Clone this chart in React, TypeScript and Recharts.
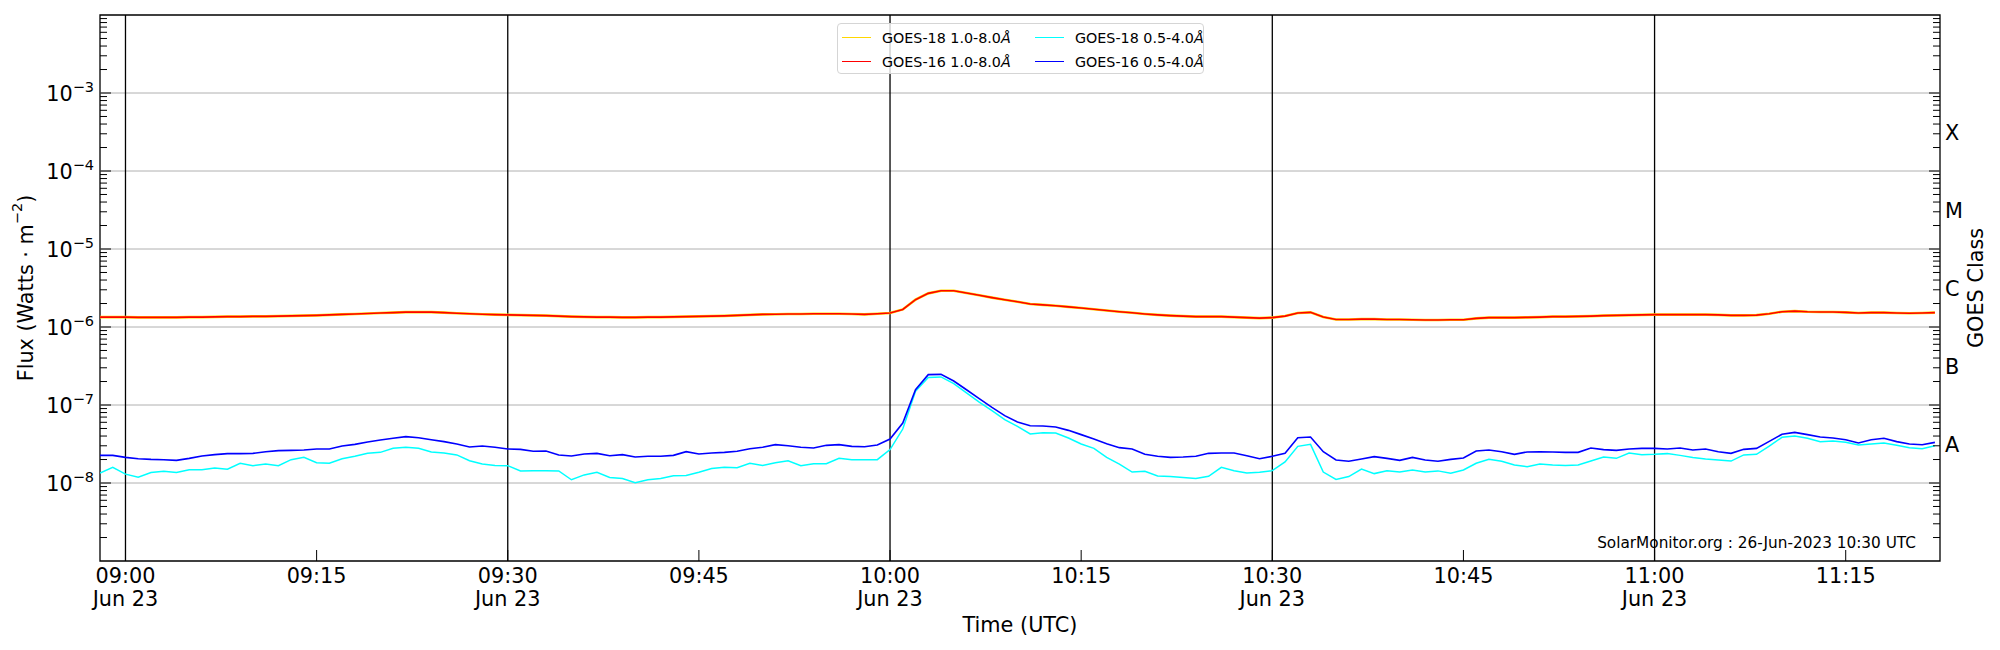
import React from 'react'
import { LineChart, Line, XAxis, YAxis, ReferenceLine, ReferenceArea } from 'recharts'

const FONT = '"DejaVu Sans", Verdana, sans-serif'

const WIDTH = 2000
const HEIGHT = 650
const PLOT_LEFT = 100
const PLOT_RIGHT = 1940
const PLOT_BOTTOM = 561

// one sample per minute, minutes counted from 09:00 UT, first sample at 08:58
const firstMinute = -2
const lastAxisMinute = 142.4

// W/m^2
const goes16Long = [
  1.34e-6, 1.34e-6, 1.34e-6, 1.33e-6, 1.33e-6, 1.33e-6, 1.33e-6, 1.34e-6, 1.34e-6, 1.35e-6, 1.36e-6, 1.36e-6,
  1.37e-6, 1.37e-6, 1.38e-6, 1.39e-6, 1.4e-6, 1.41e-6, 1.43e-6, 1.45e-6, 1.47e-6, 1.49e-6,
  1.51e-6, 1.53e-6, 1.55e-6, 1.56e-6, 1.55e-6, 1.53e-6, 1.5e-6, 1.48e-6, 1.46e-6, 1.44e-6,
  1.43e-6, 1.42e-6, 1.41e-6, 1.4e-6, 1.38e-6, 1.36e-6, 1.35e-6, 1.34e-6, 1.34e-6, 1.33e-6,
  1.33e-6, 1.34e-6, 1.34e-6, 1.35e-6, 1.36e-6, 1.37e-6, 1.38e-6, 1.39e-6, 1.41e-6, 1.43e-6,
  1.45e-6, 1.46e-6, 1.47e-6, 1.47e-6, 1.48e-6, 1.48e-6, 1.48e-6, 1.47e-6, 1.45e-6, 1.48e-6,
  1.51e-6, 1.68e-6, 2.24e-6, 2.7e-6, 2.92e-6, 2.92e-6, 2.73e-6, 2.55e-6, 2.38e-6, 2.24e-6,
  2.11e-6, 1.97e-6, 1.92e-6, 1.87e-6, 1.81e-6, 1.75e-6, 1.69e-6, 1.63e-6, 1.57e-6, 1.52e-6,
  1.47e-6, 1.43e-6, 1.4e-6, 1.38e-6, 1.36e-6, 1.36e-6, 1.36e-6, 1.34e-6, 1.32e-6, 1.3e-6,
  1.32e-6, 1.38e-6, 1.51e-6, 1.54e-6, 1.34e-6, 1.25e-6, 1.25e-6, 1.26e-6, 1.26e-6, 1.25e-6,
  1.25e-6, 1.24e-6, 1.23e-6, 1.23e-6, 1.24e-6, 1.24e-6, 1.29e-6, 1.32e-6, 1.32e-6, 1.32e-6,
  1.33e-6, 1.34e-6, 1.36e-6, 1.36e-6, 1.37e-6, 1.38e-6, 1.4e-6, 1.41e-6, 1.42e-6, 1.43e-6,
  1.44e-6, 1.44e-6, 1.44e-6, 1.44e-6, 1.44e-6, 1.43e-6, 1.41e-6, 1.41e-6, 1.42e-6, 1.48e-6,
  1.57e-6, 1.6e-6, 1.57e-6, 1.56e-6, 1.56e-6, 1.54e-6, 1.51e-6, 1.53e-6, 1.53e-6, 1.51e-6,
  1.5e-6, 1.51e-6, 1.53e-6
]

// GOES-18 long channel lies right under the GOES-16 one on the plot
const goes18Long = goes16Long

const goes18Short = [
  1.34e-8, 1.59e-8, 1.3e-8, 1.19e-8, 1.36e-8, 1.41e-8, 1.36e-8, 1.48e-8, 1.48e-8, 1.56e-8, 1.5e-8, 1.79e-8,
  1.67e-8, 1.75e-8, 1.67e-8, 1.99e-8, 2.13e-8, 1.82e-8, 1.79e-8, 2.05e-8, 2.2e-8, 2.4e-8,
  2.47e-8, 2.78e-8, 2.87e-8, 2.78e-8, 2.5e-8, 2.42e-8, 2.29e-8, 1.93e-8, 1.75e-8, 1.68e-8,
  1.67e-8, 1.43e-8, 1.44e-8, 1.44e-8, 1.43e-8, 1.1e-8, 1.27e-8, 1.37e-8, 1.18e-8, 1.14e-8,
  1.01e-8, 1.1e-8, 1.14e-8, 1.24e-8, 1.25e-8, 1.37e-8, 1.53e-8, 1.59e-8, 1.57e-8, 1.79e-8,
  1.68e-8, 1.82e-8, 1.93e-8, 1.67e-8, 1.77e-8, 1.77e-8, 2.07e-8, 1.99e-8, 1.99e-8, 1.99e-8,
  2.68e-8, 4.92e-8, 1.5e-7, 2.26e-7, 2.29e-7, 1.88e-7, 1.43e-7, 1.09e-7, 8.46e-8, 6.48e-8,
  5.32e-8, 4.25e-8, 4.42e-8, 4.38e-8, 3.78e-8, 3.16e-8, 2.78e-8, 2.13e-8, 1.75e-8, 1.38e-8,
  1.41e-8, 1.23e-8, 1.21e-8, 1.18e-8, 1.14e-8, 1.22e-8, 1.59e-8, 1.44e-8, 1.34e-8, 1.37e-8,
  1.44e-8, 1.86e-8, 2.95e-8, 3.13e-8, 1.38e-8, 1.11e-8, 1.21e-8, 1.51e-8, 1.32e-8, 1.44e-8,
  1.38e-8, 1.47e-8, 1.38e-8, 1.43e-8, 1.33e-8, 1.47e-8, 1.79e-8, 2.01e-8, 1.9e-8, 1.7e-8,
  1.62e-8, 1.75e-8, 1.7e-8, 1.68e-8, 1.7e-8, 1.91e-8, 2.15e-8, 2.07e-8, 2.42e-8, 2.31e-8,
  2.33e-8, 2.38e-8, 2.26e-8, 2.13e-8, 2.03e-8, 1.97e-8, 1.91e-8, 2.29e-8, 2.33e-8, 2.98e-8,
  3.85e-8, 4.01e-8, 3.74e-8, 3.39e-8, 3.45e-8, 3.32e-8, 3.07e-8, 3.16e-8, 3.26e-8, 3.04e-8,
  2.84e-8, 2.75e-8, 3.01e-8
]

const goes16Short = [
  2.26e-8, 2.26e-8, 2.13e-8, 2.05e-8, 2.01e-8, 1.99e-8, 1.95e-8, 2.07e-8, 2.22e-8, 2.31e-8, 2.38e-8, 2.38e-8,
  2.4e-8, 2.52e-8, 2.6e-8, 2.62e-8, 2.65e-8, 2.73e-8, 2.73e-8, 2.98e-8, 3.13e-8, 3.36e-8,
  3.56e-8, 3.74e-8, 3.93e-8, 3.81e-8, 3.59e-8, 3.39e-8, 3.16e-8, 2.89e-8, 2.98e-8, 2.87e-8,
  2.73e-8, 2.7e-8, 2.55e-8, 2.57e-8, 2.29e-8, 2.22e-8, 2.35e-8, 2.4e-8, 2.24e-8, 2.31e-8,
  2.15e-8, 2.2e-8, 2.2e-8, 2.26e-8, 2.52e-8, 2.35e-8, 2.42e-8, 2.47e-8, 2.55e-8, 2.75e-8,
  2.87e-8, 3.1e-8, 3.01e-8, 2.87e-8, 2.81e-8, 3.04e-8, 3.1e-8, 2.95e-8, 2.92e-8, 3.07e-8,
  3.66e-8, 5.88e-8, 1.57e-7, 2.45e-7, 2.47e-7, 2.03e-7, 1.57e-7, 1.21e-7, 9.33e-8, 7.3e-8,
  6.05e-8, 5.43e-8, 5.38e-8, 5.22e-8, 4.73e-8, 4.17e-8, 3.66e-8, 3.19e-8, 2.84e-8, 2.73e-8,
  2.33e-8, 2.2e-8, 2.13e-8, 2.15e-8, 2.2e-8, 2.4e-8, 2.42e-8, 2.42e-8, 2.24e-8, 2.05e-8,
  2.2e-8, 2.4e-8, 3.81e-8, 3.89e-8, 2.52e-8, 1.97e-8, 1.9e-8, 2.03e-8, 2.18e-8, 2.07e-8,
  1.95e-8, 2.13e-8, 1.97e-8, 1.9e-8, 2.01e-8, 2.09e-8, 2.57e-8, 2.65e-8, 2.52e-8, 2.33e-8,
  2.5e-8, 2.52e-8, 2.5e-8, 2.47e-8, 2.47e-8, 2.81e-8, 2.68e-8, 2.62e-8, 2.73e-8, 2.78e-8,
  2.78e-8, 2.73e-8, 2.81e-8, 2.65e-8, 2.73e-8, 2.52e-8, 2.4e-8, 2.7e-8, 2.78e-8, 3.42e-8,
  4.21e-8, 4.46e-8, 4.17e-8, 3.89e-8, 3.78e-8, 3.59e-8, 3.26e-8, 3.59e-8, 3.74e-8, 3.39e-8,
  3.16e-8, 3.1e-8, 3.32e-8
]

const seriesKeys = ['g18long', 'g16long', 'g18short', 'g16short']
const seriesNames = ['GOES-18 1.0-8.0Å', 'GOES-16 1.0-8.0Å', 'GOES-18 0.5-4.0Å', 'GOES-16 0.5-4.0Å']
const seriesColors = ['#ffd700', '#ff0000', '#00ffff', '#0000ff']
const seriesWidths = [2.6, 1.6, 1.5, 1.6]

const timeTicks = [0, 15, 30, 45, 60, 75, 90, 105, 120, 135]
const timeLabels = ['09:00', '09:15', '09:30', '09:45', '10:00', '10:15', '10:30', '10:45', '11:00', '11:15']
const dateTicks = [0, 30, 60, 90, 120]
const dateLabel = 'Jun 23'

const decadeTicks = [1e-8, 1e-7, 1e-6, 1e-5, 1e-4, 1e-3]
const decadeExponents = ['−8', '−7', '−6', '−5', '−4', '−3']
const minorTicks = [-9, -8, -7, -6, -5, -4, -3].flatMap((e) =>
  [2, 3, 4, 5, 6, 7, 8, 9].map((k) => k * Math.pow(10, e))
)
const classTicks = [3.16e-8, 3.16e-7, 3.16e-6, 3.16e-5, 3.16e-4]
const classLabels = ['A', 'B', 'C', 'M', 'X']

const footnote = 'SolarMonitor.org : 26-Jun-2023 10:30 UTC'

const rows = goes16Long.map((_, i) => ({
  m: firstMinute + i,
  g18long: goes18Long[i],
  g16long: goes16Long[i],
  g18short: goes18Short[i],
  g16short: goes16Short[i]
}))

function FluxTick(props: any) {
  const { y, payload } = props
  const v = payload.value
  const ci = classTicks.indexOf(v)
  if (ci >= 0) {
    return (
      <text x={PLOT_RIGHT + 5} y={y + 7.5} fontSize={20.8} fill="#000">
        {classLabels[ci]}
      </text>
    )
  }
  const di = decadeTicks.indexOf(v)
  const len = di >= 0 ? 11 : 7
  return (
    <g>
      <line x1={PLOT_LEFT} x2={PLOT_LEFT + len} y1={y} y2={y} stroke="#000" strokeWidth={1} />
      <line x1={PLOT_RIGHT - len} x2={PLOT_RIGHT} y1={y} y2={y} stroke="#000" strokeWidth={1} />
      {di >= 0 && (
        <text x={PLOT_LEFT - 6} y={y + 7.5} textAnchor="end" fontSize={20.8} fill="#000">
          10
          <tspan dy={-9} fontSize={14.5}>
            {decadeExponents[di]}
          </tspan>
        </text>
      )}
    </g>
  )
}

function TimeTick(props: any) {
  const { x, payload } = props
  const i = timeTicks.indexOf(payload.value)
  const major = dateTicks.includes(payload.value)
  return (
    <g>
      <line x1={x} x2={x} y1={PLOT_BOTTOM} y2={PLOT_BOTTOM - 11} stroke="#000" strokeWidth={1} />
      <text x={x} y={583} textAnchor="middle" fontSize={20.8} fill="#000">
        {timeLabels[i]}
      </text>
      {major && (
        <text x={x} y={606} textAnchor="middle" fontSize={20.8} fill="#000">
          {dateLabel}
        </text>
      )}
    </g>
  )
}

const fluxTitle = () => (
  <g>
    <text
      transform="translate(25.5,288) rotate(-90)"
      textAnchor="middle"
      dominantBaseline="central"
      fontSize={20.8}
      fill="#000"
    >
      Flux (Watts · m
      <tspan dy={-9} fontSize={14.5}>
        −2
      </tspan>
      <tspan dy={9}>)</tspan>
    </text>
    <text
      transform="translate(1976,288) rotate(-90)"
      textAnchor="middle"
      dominantBaseline="central"
      fontSize={20.8}
      fill="#000"
    >
      GOES Class
    </text>
  </g>
)

const timeTitle = () => (
  <text x={(PLOT_LEFT + PLOT_RIGHT) / 2} y={632} textAnchor="middle" fontSize={20.8} fill="#000">
    Time (UTC)
  </text>
)

function LegendBox() {
  const colLeft = [4, 197]
  const textLeft = [44, 237]
  const rowMid = [13.7, 37.7]
  return (
    <div
      style={{
        position: 'absolute',
        left: 837,
        top: 23,
        width: 367,
        height: 51,
        boxSizing: 'border-box',
        border: '1px solid #d5d5d5',
        borderRadius: 4,
        background: 'rgba(255,255,255,0.8)'
      }}
    >
      {seriesNames.map((name, i) => {
        const col = i >> 1
        const row = i % 2
        return (
          <React.Fragment key={name}>
            <div
              style={{
                position: 'absolute',
                left: colLeft[col],
                top: rowMid[row] - 0.75,
                width: 29,
                height: 1.5,
                background: seriesColors[i]
              }}
            />
            <div
              style={{
                position: 'absolute',
                left: textLeft[col],
                top: rowMid[row] - 8,
                lineHeight: '16px',
                fontSize: 14.3,
                whiteSpace: 'nowrap'
              }}
            >
              {name.slice(0, -1)}
              <i>{name.slice(-1)}</i>
            </div>
          </React.Fragment>
        )
      })}
    </div>
  )
}

export default function App() {
  return (
    <div
      style={{
        position: 'absolute',
        left: 0,
        top: 0,
        width: WIDTH,
        height: HEIGHT,
        background: '#fff',
        fontFamily: FONT
      }}
    >
      <LineChart
        width={WIDTH}
        height={HEIGHT}
        data={rows}
        margin={{ top: 15, right: WIDTH - PLOT_RIGHT, bottom: 0, left: 0 }}
      >
        <XAxis
          dataKey="m"
          type="number"
          domain={[firstMinute, lastAxisMinute]}
          allowDataOverflow
          ticks={timeTicks}
          interval={0}
          tick={<TimeTick />}
          tickLine={false}
          axisLine={false}
          height={HEIGHT - PLOT_BOTTOM}
          label={timeTitle}
        />
        <YAxis
          type="number"
          scale="log"
          domain={[1e-9, 1e-2]}
          allowDataOverflow
          ticks={[...decadeTicks, ...minorTicks, ...classTicks]}
          interval={0}
          tick={<FluxTick />}
          tickLine={false}
          axisLine={false}
          width={PLOT_LEFT}
          label={fluxTitle}
        />
        {decadeTicks.map((d) => (
          <ReferenceLine key={'g' + d} y={d} stroke="#b0b0b0" strokeWidth={1} />
        ))}
        {dateTicks.map((t) => (
          <ReferenceLine key={'v' + t} x={t} stroke="#000" strokeWidth={1.3} />
        ))}
        {seriesKeys.map((key, i) => (
          <Line
            key={key}
            type="linear"
            dataKey={key}
            stroke={seriesColors[i]}
            strokeWidth={seriesWidths[i]}
            dot={false}
            activeDot={false}
            isAnimationActive={false}
          />
        ))}
        <ReferenceArea
          x1={firstMinute}
          x2={lastAxisMinute}
          y1={1e-9}
          y2={1e-2}
          fill="none"
          fillOpacity={0}
          stroke="#000"
          strokeWidth={1.3}
          ifOverflow="visible"
        />
      </LineChart>
      <LegendBox />
      <div
        style={{
          position: 'absolute',
          right: WIDTH - 1916,
          top: 534,
          fontSize: 15.3,
          lineHeight: '18px',
          whiteSpace: 'nowrap'
        }}
      >
        {footnote}
      </div>
    </div>
  )
}
